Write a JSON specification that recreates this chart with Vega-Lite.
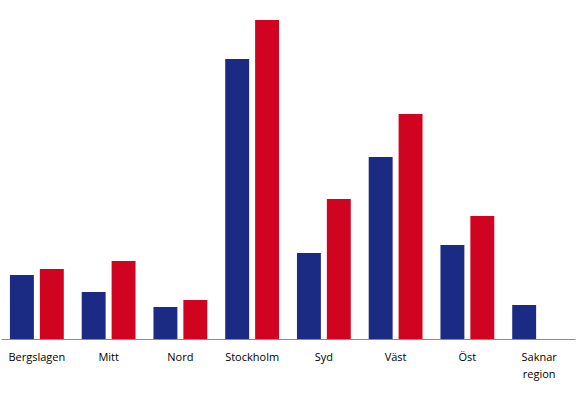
{
  "$schema": "https://vega.github.io/schema/vega-lite/v6.json",
  "autosize": {"type": "none"},
  "width": 574,
  "height": 320,
  "padding": {"left": 1, "top": 19, "right": 8, "bottom": 56},
  "background": "white",
  "config": {"view": {"stroke": null}, "font": "Open Sans"},
  "data": {
    "values": [
      {"region": "Bergslagen", "serie": "A", "value": 64},
      {"region": "Bergslagen", "serie": "B", "value": 70},
      {"region": "Mitt", "serie": "A", "value": 47},
      {"region": "Mitt", "serie": "B", "value": 78},
      {"region": "Nord", "serie": "A", "value": 32},
      {"region": "Nord", "serie": "B", "value": 39},
      {"region": "Stockholm", "serie": "A", "value": 280},
      {"region": "Stockholm", "serie": "B", "value": 319},
      {"region": "Syd", "serie": "A", "value": 86},
      {"region": "Syd", "serie": "B", "value": 140},
      {"region": "Väst", "serie": "A", "value": 182},
      {"region": "Väst", "serie": "B", "value": 225},
      {"region": "Öst", "serie": "A", "value": 94},
      {"region": "Öst", "serie": "B", "value": 123},
      {"region": "Saknar region", "serie": "A", "value": 34},
      {"region": "Saknar region", "serie": "B", "value": 0}
    ]
  },
  "mark": {"type": "bar"},
  "encoding": {
    "x": {
      "field": "region",
      "type": "nominal",
      "sort": null,
      "scale": {"paddingInner": 0, "paddingOuter": 0},
      "axis": {
        "title": null,
        "labelAngle": 0,
        "ticks": false,
        "domainColor": "#8c8c8c",
        "domainWidth": 1,
        "labelPadding": 12,
        "labelFontSize": 11,
        "labelColor": "#000000",
        "labelLineHeight": 17,
        "labelExpr": "split(datum.label, ' ')"
      }
    },
    "xOffset": {
      "field": "serie",
      "type": "nominal",
      "scale": {"paddingInner": 0.2, "paddingOuter": 0.3}
    },
    "y": {
      "field": "value",
      "type": "quantitative",
      "scale": {"domain": [0, 320], "nice": false},
      "axis": null
    },
    "color": {
      "field": "serie",
      "type": "nominal",
      "scale": {"domain": ["A", "B"], "range": ["#1B2A83", "#D00420"]},
      "legend": null
    }
  }
}
